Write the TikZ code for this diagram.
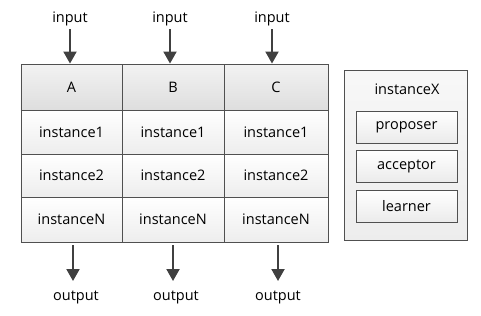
\documentclass[tikz,border=0pt]{standalone}
\usepackage{fontspec}
\setmainfont{Open Sans}
\usetikzlibrary{arrows.meta,positioning}
\definecolor{edge}{HTML}{505050}
\definecolor{arrc}{HTML}{404040}
\tikzset{
  cell/.style={draw=edge, line width=0.9bp, inner sep=0pt, top color=white, bottom color=black!7,
    font=\fontsize{14.5bp}{17bp}\selectfont, text=black},
  headcell/.style={cell, top color=black!5, bottom color=black!13},
  lbl/.style={inner sep=0pt, font=\fontsize{14.5bp}{17bp}\selectfont},
  arr/.style={draw=arrc, line width=2bp, -{Triangle[width=13bp,length=12bp]}, arrc},
  subbox/.style={draw=edge, line width=0.9bp, inner sep=0pt, top color=white, bottom color=black!8,
    font=\fontsize{14.5bp}{17bp}\selectfont, minimum width=101bp, minimum height=32bp},
}
\begin{document}
\begin{tikzpicture}[x=1bp,y=-1bp]
\useasboundingbox (0,0) rectangle (481,315);
% columns: 21-122, 122-224, 224-328 ; rows: 64-110, 110-154, 154-197, 197-242
\foreach \n/\cx/\w/\t in {A/71.5/101/A, B/173/102/B, C/276/104/C}{
  \node[headcell, minimum width=\w bp, minimum height=46bp] (\n0) at (\cx,87) {\t};
  \node[cell, minimum width=\w bp, minimum height=44bp] (\n1) at (\cx,132) {instance1};
  \node[cell, minimum width=\w bp, minimum height=43bp] (\n2) at (\cx,175.5) {instance2};
  \node[cell, minimum width=\w bp, minimum height=45bp] (\n3) at (\cx,219.5) {instanceN};
}
% inputs
\node[lbl] (inA) at (70,18.5) {input};
\node[lbl] (inB) at (170,18.5) {input};
\node[lbl] (inC) at (272,18.5) {input};
\coordinate (ia) at (70,29);
\coordinate (ib) at (170,29);
\coordinate (ic) at (272,29);
\draw[arr] (ia) -- (ia |- A0.north);
\draw[arr] (ib) -- (ib |- B0.north);
\draw[arr] (ic) -- (ic |- C0.north);
% outputs
\node[lbl] (outA) at (76,297.5) {output};
\node[lbl] (outB) at (176,297.5) {output};
\node[lbl] (outC) at (278,297.5) {output};
\coordinate (oa) at (73,245);
\coordinate (ob) at (173,245);
\coordinate (oc) at (278,245);
\coordinate (oa2) at (73,281);
\coordinate (ob2) at (173,281);
\coordinate (oc2) at (278,281);
\draw[arr] (oa) -- (oa2);
\draw[arr] (ob) -- (ob2);
\draw[arr] (oc) -- (oc2);
% instanceX
\node[draw=edge, line width=0.9bp, inner sep=0pt, top color=black!3, bottom color=black!7,
  minimum width=123bp, minimum height=170bp] (X) at (405.5,155) {};
\node[lbl] (Xt) at (407,89.5) {instanceX};
\node[subbox] (prop) at (406.5,127) {proposer};
\node[subbox] (acc) at (406.5,166.5) {acceptor};
\node[subbox] (learn) at (406.5,206.5) {learner};
\end{tikzpicture}
\end{document}
